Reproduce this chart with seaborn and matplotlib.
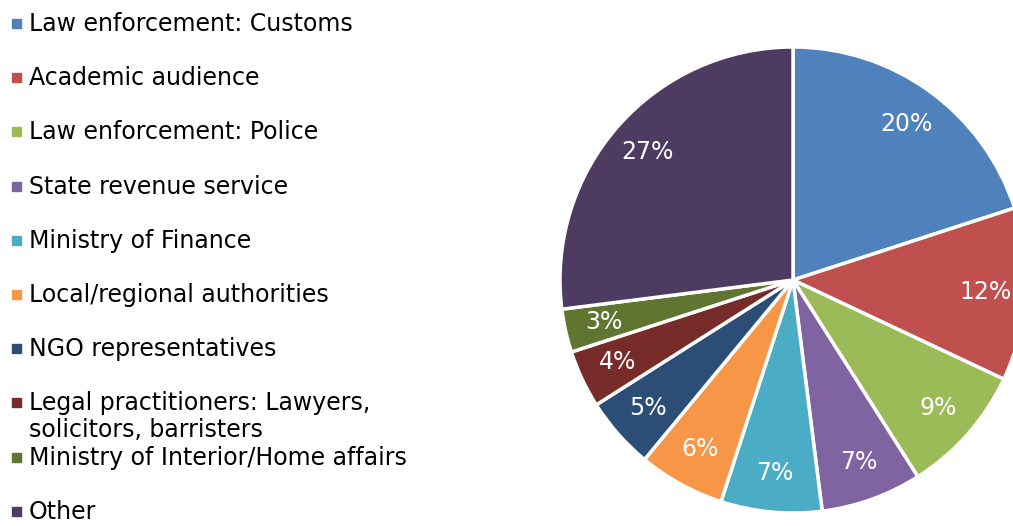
import matplotlib
matplotlib.use("Agg")
import matplotlib.pyplot as plt
import seaborn as sns

categories = [
    "Law enforcement: Customs",
    "Academic audience",
    "Law enforcement: Police",
    "State revenue service",
    "Ministry of Finance",
    "Local/regional authorities",
    "NGO representatives",
    "Legal practitioners: Lawyers,\nsolicitors, barristers",
    "Ministry of Interior/Home affairs",
    "Other",
]
shares = [20, 12, 9, 7, 7, 6, 5, 4, 3, 27]
colors = ["#4F81BD", "#C0504D", "#9BBB59", "#8064A2", "#4BACC6",
          "#F79646", "#2C4D75", "#772C2A", "#5F7530", "#4D3B62"]

sns.set_theme(style="white")
plt.rcParams["font.family"] = ["DejaVu Sans"]
palette = sns.color_palette(colors)

W, H = 1013, 526
fig = plt.figure(figsize=(W / 100, H / 100), dpi=100)

# pie axes placed in pixels: centre (793, 280), radius 233
cx, cy, r = 793, 280, 233
ax = fig.add_axes([(cx - r) / W, (H - cy - r) / H, 2 * r / W, 2 * r / H])
wedges, texts, autotexts = ax.pie(
    shares, colors=palette, startangle=90, counterclock=False,
    autopct="%d%%", pctdistance=0.83,
    wedgeprops=dict(edgecolor="white", linewidth=2.5),
    textprops=dict(color="white", fontsize=17),
)
ax.set_xlim(-1, 1)
ax.set_ylim(-1, 1)
ax.set_aspect("auto")
ax.axis("off")

# legend drawn down the left side, one row every ~54 px
for i, (lab, col) in enumerate(zip(categories, palette)):
    yc = 23 + 54.2 * i
    fig.patches.append(plt.Rectangle((12 / W, (H - yc - 5) / H), 9 / W, 9 / H,
                                     transform=fig.transFigure, color=col))
    fig.text(29 / W, (H - yc + 11) / H, lab, ha="left", va="top",
             fontsize=17, color="black", linespacing=1.15)

fig.savefig("out.png", dpi=100)
